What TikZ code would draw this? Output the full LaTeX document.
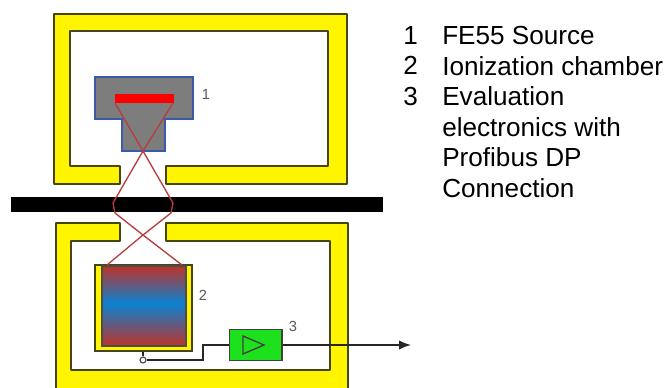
\documentclass[tikz,border=0pt]{standalone}
\usepackage{fontspec}
\setmainfont{Liberation Sans}
\usetikzlibrary{arrows.meta, positioning, calc}
\definecolor{wallyellow}{RGB}{255, 245, 0}
\definecolor{walledge}{RGB}{70, 70, 20}
\definecolor{srcgray}{RGB}{125, 125, 125}
\definecolor{srcblue}{RGB}{60, 90, 170}
\definecolor{rayred}{RGB}{185, 60, 60}
\definecolor{chamblue}{RGB}{10, 130, 210}
\definecolor{chamred}{RGB}{190, 50, 40}
\definecolor{ampgreen}{RGB}{30, 225, 30}
\begin{document}
\begin{tikzpicture}[
  x=0.75pt, y=-0.75pt,
  wall/.style={draw=walledge, fill=wallyellow, line width=1.3pt, line join=round},
  srcbody/.style={draw=srcblue, fill=srcgray, line width=1.2pt},
  ray/.style={draw=rayred, line width=1pt},
  sig/.style={draw=black!85, line width=1pt},
  numlabel/.style={font=\fontsize{11}{13}\selectfont, text=black!65, inner sep=0pt},
  legend/.style={font=\fontsize{19.6}{22.9}\selectfont, anchor=north west, inner sep=0pt, align=left}
]
  \useasboundingbox (0,0) rectangle (669,387);
  \fill[white] (0,0) rectangle (669,387);

  % chamber walls
  \draw[wall] (120,184) -- (54,184) -- (54,14) -- (347,14) -- (347,184) -- (166,184) -- (166,166) -- (328,166) -- (328,31) -- (70,31) -- (70,166) -- (120,166) -- cycle;
  \clip (0,0) rectangle (669,387);
  \draw[wall] (120,223) -- (56,223) -- (56,395) -- (348,395) -- (348,223) -- (166,223) -- (166,241) -- (330,241) -- (330,370) -- (71,370) -- (71,241) -- (120,241) -- cycle;

  % source
  \draw[srcbody] (95,77) -- (193,77) -- (193,119) -- (165,119) -- (165,151) -- (122,151) -- (122,119) -- (95,119) -- cycle;
  \node[fill=red, minimum width=44pt, minimum height=6.8pt, inner sep=0pt] (bar) at (144.5,98.5) {};
  \node[numlabel] (lblsource) at (206,94) {1};

  % ionization chamber
  \node[draw=walledge, fill=wallyellow, line width=1pt, minimum width=72.8pt, minimum height=64.5pt, inner sep=0pt] (jacket) at (143.5,308) {};
  \node[top color=chamred, bottom color=chamblue, minimum width=63pt, minimum height=28pt, inner sep=0pt, anchor=north] (chamtop) at (144,266) {};
  \node[top color=chamblue, bottom color=chamred, minimum width=63pt, minimum height=32pt, inner sep=0pt, anchor=north] (chambot) at (144,303) {};
  \draw[black!70, line width=1pt] (102,266) rectangle (186,346);
  \node[numlabel] (lblchamber) at (203,295) {2};

  % black bar
  \node[fill=black, minimum width=279pt, minimum height=11.2pt, inner sep=0pt] (beam) at (197,204.5) {};

  % rays
  \coordinate (rayA) at (115,103);
  \coordinate (rayB) at (173,103);
  \coordinate (crossA) at (143,151);
  \coordinate (crossB) at (143,235);
  \coordinate (rayC) at (113,203);
  \coordinate (rayD) at (173,203);
  \coordinate (rayE) at (115,213);
  \coordinate (rayF) at (171,213);
  \coordinate (rayG) at (107,265);
  \coordinate (rayH) at (182,265);
  \draw[ray] (rayA) -- (crossA) -- (rayD) -- (rayF) -- (crossB) -- (rayG);
  \draw[ray] (rayB) -- (crossA) -- (rayC) -- (rayE) -- (crossB) -- (rayH);

  % electronics
  \node[draw=black!75, fill=ampgreen, line width=1pt, minimum width=39.5pt, minimum height=23pt, inner sep=0pt] (amp) at (255.5,345) {};
  \draw[black!75, line width=1pt] (243,336) -- (264,345) -- (243,354) -- cycle;
  \node[numlabel] (lblamp) at (293,326) {3};
  \node[circle, draw=black!75, fill=white, line width=0.8pt, minimum size=4.5pt, inner sep=0pt] (term) at (143,360) {};
  \coordinate (out) at (411,345);
  \draw[sig] (jacket.south -| term) -- (term);
  \draw[sig] (term) -- (203,360) -- (203,345) -- (amp.west);
  \draw[sig, -{Latex[length=9pt,width=7pt]}] (amp.east) -- (out);

  % legend
  \node[legend] (num) at (403,26) {1\\2\\3};
  \node[legend] (txt) at (442,26) {FE55 Source\\Ionization chamber\\Evaluation\\electronics with\\Profibus DP\\Connection};
\end{tikzpicture}
\end{document}
